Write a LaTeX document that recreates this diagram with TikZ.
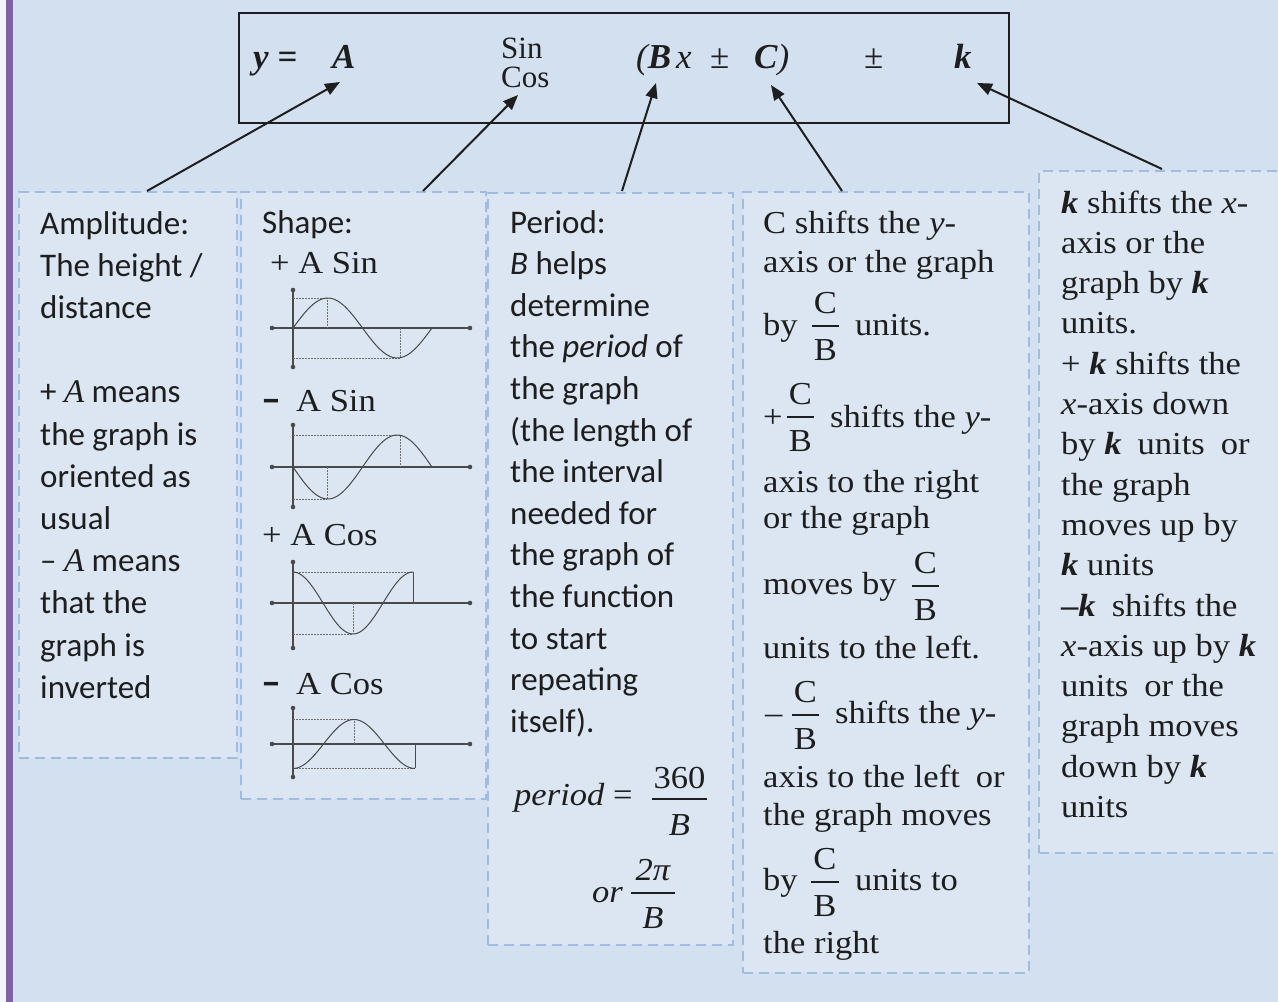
\documentclass[tikz,border=0pt]{standalone}
\usepackage{fontspec}
\setmainfont{Carlito}
\newfontfamily\pal[FakeStretch=1.08]{Liberation Serif}
\newfontfamily\tnr{Liberation Serif}
\usetikzlibrary{arrows.meta}
\definecolor{bg}{HTML}{D3E0EF}
\definecolor{boxfill}{HTML}{DBE6F2}
\definecolor{boxline}{HTML}{A0BCE0}
\definecolor{purp}{HTML}{7F62A8}
\definecolor{ink}{HTML}{1E1E1E}
\definecolor{plotc}{HTML}{4A4A4A}
\tikzset{
  txt/.style={inner sep=0pt, text=ink, anchor=base west},
  sans/.style={txt, font=\fontsize{33}{40}\selectfont},
  pals/.style={txt, font=\pal\fontsize{32}{40}\selectfont},
  eqt/.style={txt, font=\tnr\fontsize{35}{40}\selectfont},
  dbox/.style={draw=boxline, fill=boxfill, line width=1.5pt, dash pattern=on 10pt off 6pt, anchor=north west, inner sep=0pt},
  arr/.style={draw=ink, line width=2pt, -{Triangle[length=15pt,width=12pt]}},
  fracbar/.style={draw=ink, line width=1.2pt},
  axis/.style={draw=plotc, line width=1.2pt},
  curve/.style={draw=plotc, line width=1pt},
  dots/.style={draw=plotc!80, line width=0.9pt, dash pattern=on 1.5pt off 1.5pt},
  enddot/.style={fill=plotc}
}
\newcommand\mkfrac[5]{% name, xl, xr, ybar, unused
  \draw[fracbar] (#2,#4) -- (#3,#4);
  \node[pals, anchor=base] (#1n) at ({(#2+#3)/2},{#4-13}) {C};
  \node[pals, anchor=base] (#1d) at ({(#2+#3)/2},{#4+34}) {B};}
\newcommand\axes[4]{% xaxis y, yaxis top, yaxis bottom, name
  \draw[axis] (272,#1) -- (470,#1);
  \draw[axis] (293,#2) -- (293,#3);
  \fill[enddot] (272,#1) circle (2.3pt) (470,#1) circle (2.3pt) (293,#2) circle (2.3pt) (293,#3) circle (2.3pt);}
\begin{document}
\begin{tikzpicture}[x=1pt,y=-1pt]
\useasboundingbox (0,0) rectangle (1278,1002);
\fill[bg] (0,0) rectangle (1278,1002);
\fill[white!70!bg] (0,0) rectangle (6,1002);
\fill[purp] (6,0) rectangle (13,1002);

% explanation boxes
\node[dbox, minimum width=218pt, minimum height=566pt] (ampbox) at (18,191) {};
\node[dbox, minimum width=245pt, minimum height=607pt] (shapebox) at (240,191) {};
\node[dbox, minimum width=245pt, minimum height=752pt] (perbox) at (487,192) {};
\node[dbox, minimum width=286pt, minimum height=781pt] (cbox) at (742,191) {};
\node[dbox, minimum width=250pt, minimum height=682pt] (kbox) at (1038,170) {};

% equation box
\node[draw=ink, line width=2pt, minimum width=770pt, minimum height=110pt, anchor=north west, inner sep=0pt] (eqbox) at (238,12) {};
\node[eqt] (ey) at (253,68) {\bfseries\itshape y =};
\node[eqt] (eA) at (332,68) {\bfseries\itshape A};
\node[eqt, font=\tnr\fontsize{31}{30}\selectfont] (esin) at (501,58) {Sin};
\node[eqt, font=\tnr\fontsize{31}{30}\selectfont] (ecos) at (501,87) {Cos};
\node[eqt] (eB) at (636,68) {\itshape (\bfseries B};
\node[eqt] (ex) at (676,68) {\itshape x};
\node[eqt] (epm1) at (710,68) {±};
\node[eqt] (eC) at (754,68) {\bfseries\itshape C\mdseries)};
\node[eqt] (epm2) at (864,68) {±};
\node[eqt] (ek) at (954,68) {\bfseries\itshape k};

% connectors
\coordinate (s1) at (147,191); \coordinate (t1) at (340,82);
\coordinate (s2) at (423,191); \coordinate (t2) at (518,95);
\coordinate (s3) at (622,191); \coordinate (t3) at (656,83);
\coordinate (s4) at (842,191); \coordinate (t4) at (771,85);
\coordinate (s5) at (1162,169); \coordinate (t5) at (977,83);
\draw[arr] (s1) -- (t1);
\draw[arr] (s2) -- (t2);
\draw[arr] (s3) -- (t3);
\draw[arr] (s4) -- (t4);
\draw[arr] (s5) -- (t5);

% amplitude box
\foreach \t [count=\i from 0] in {Amplitude:, The height /, distance}
  \node[sans] (amp\i) at (40,{234+42.2*\i}) {\t};
\foreach \t [count=\i from 4] in {{+ {\tnr\itshape A} means}, the graph is, oriented as, usual, {– {\tnr\itshape A} means}, that the, graph is, inverted}
  \node[sans] (amp\i) at (40,{234+42.2*\i}) {\t};

% shape box
\node[sans] (shl) at (262,233) {Shape:};
\node[pals] (sh1) at (270,273) {+ A Sin};
\node[sans, font=\bfseries\fontsize{40}{40}\selectfont] (sh2m) at (261,412) {–};
\node[pals] (sh2) at (296,411) {A Sin};
\node[pals] (sh3) at (262,545) {+ A Cos};
\node[sans, font=\bfseries\fontsize{40}{40}\selectfont] (sh4m) at (261,695) {–};
\node[pals] (sh4) at (296,694) {A Cos};

% +A sin
\axes{328}{290}{367}{p1}
\draw[dots] (293,298) -- (327,298) -- (327,328);
\draw[dots] (293,358) -- (400,358);
\draw[dots] (400,328) -- (400,358);
\draw[curve] plot[domain=0:139, samples=70] ({293+\x},{328-30*sin(\x/139*360)});
% -A sin
\axes{467}{425}{507}{p2}
\draw[dots] (293,435) -- (400,435) -- (400,467);
\draw[dots] (293,499) -- (327,499);
\draw[dots] (327,467) -- (327,499);
\draw[curve] plot[domain=0:139, samples=70] ({293+\x},{467+32*sin(\x/139*360)});
% +A cos
\axes{603}{562}{648}{p3}
\draw[dots] (293,572) -- (413,572);
\draw[curve] (413,572) -- (413,603);
\draw[dots] (293,634) -- (353,634);
\draw[dots] (353,603) -- (353,634);
\draw[curve] plot[domain=0:120, samples=70] ({293+\x},{603-31*cos(\x/120*360)});
% -A cos
\axes{744}{708}{777}{p4}
\draw[dots] (293,719) -- (354,719) -- (354,744);
\draw[dots] (293,768) -- (415,768);
\draw[curve] (415,744) -- (415,768);
\draw[curve] plot[domain=0:122, samples=70] ({293+\x},{744+24.5*cos(\x/122*360)});

% period box
\foreach \t [count=\i from 0] in {Period:, {\textit{B} helps}, determine, {the \textit{period} of}, the graph, {(the length of}, the interval, needed for, the graph of, the function, to start, repeating, {itself).}}
  \node[sans] (per\i) at (510,{233+41.6*\i}) {\t};
\node[pals] (pform) at (514,805) {\itshape period\/ \upshape =};
\draw[fracbar] (652,799) -- (707,799);
\node[pals, anchor=base] (p360) at (679.5,788) {360};
\node[pals, anchor=base] (pB1) at (679.5,835) {\itshape B};
\node[pals] (por) at (592,902) {\itshape or};
\draw[fracbar] (631,893) -- (675,893);
\node[pals, anchor=base] (p2pi) at (653,880) {\itshape 2π};
\node[pals, anchor=base] (pB2) at (653,928) {\itshape B};

% C box
\node[pals] (c1) at (763,233) {C shifts the \textit{y}-};
\node[pals] (c2) at (763,272) {axis or the graph};
\node[pals] (c3a) at (763,335) {by};
\mkfrac{f1}{812}{839}{326}{}
\node[pals] (c3b) at (855,335) {units.};
\node[pals] (c4a) at (763,427) {+};
\mkfrac{f2}{787}{814}{417}{}
\node[pals] (c4b) at (830,427) {shifts the \textit{y}-};
\node[pals] (c5) at (763,492) {axis to the right};
\node[pals] (c6) at (763,528) {or the graph};
\node[pals] (c7) at (763,594) {moves by};
\mkfrac{f3}{912}{939}{586}{}
\node[pals] (c8) at (763,658) {units to the left.};
\node[pals] (c9a) at (765,723) {–};
\mkfrac{f4}{792}{819}{715}{}
\node[pals] (c9b) at (835,723) {shifts the \textit{y}-};
\node[pals] (c10) at (763,787) {axis to the left\enspace or};
\node[pals] (c11) at (763,825) {the graph moves};
\node[pals] (c12a) at (763,890) {by};
\mkfrac{f5}{811}{839}{882}{}
\node[pals] (c12b) at (855,890) {units to};
\node[pals] (c13) at (763,953) {the right};

% k box
\foreach \t [count=\i from 0] in {{\textbf{\textit{k}} shifts the \textit{x}-}, axis or the, {graph by \textbf{\textit{k}}}, units., {+ \textbf{\textit{k}} shifts the}, {\textit{x}-axis down}, {by \textbf{\textit{k}}\enspace units\enspace or}, the graph, moves up by, {\textbf{\textit{k}} units}, {\textbf{–\textit{k}}\enspace shifts the}, {\textit{x}-axis up by \textbf{\textit{k}}}, {units\enspace or the}, graph moves, {down by \textbf{\textit{k}}}, units}
  \node[pals] (k\i) at (1061,{213+40.3*\i}) {\t};
\end{tikzpicture}
\end{document}
